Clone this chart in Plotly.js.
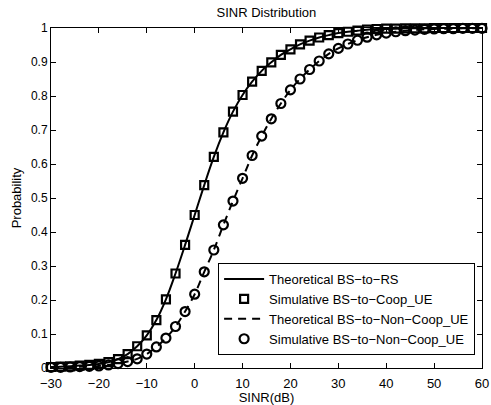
<!DOCTYPE html>
<html>
<head>
<meta charset="utf-8">
<script src="https://cdn.plot.ly/plotly-3.0.1.min.js"></script>
<style>html,body{margin:0;padding:0;background:#fff;}#chart{width:491px;height:405px;}</style>
</head>
<body>
<div id="chart"></div>
<script>
var sinrDb = [-30,-28,-26,-24,-22,-20,-18,-16,-14,-12,-10,-8,-6,-4,-2,0,2,4,6,8,10,12,14,16,18,20,22,24,26,28,30,32,34,36,38,40,42,44,46,48,50,52,54,56,58,60];

var simCoop = [0.003,0.004,0.005,0.007,0.009,0.012,0.017,0.026,0.041,0.064,0.096,0.141,0.202,0.278,0.362,0.450,0.538,0.621,0.693,0.754,0.803,0.842,0.874,0.899,0.921,0.937,0.952,0.963,0.972,0.979,0.985,0.989,0.992,0.995,0.997,0.998,0.998,0.999,0.999,0.999,1.0,1.0,1.0,1.0,1.0,1.0];
var theoCoop = [0.003,0.004,0.005,0.007,0.009,0.012,0.017,0.026,0.041,0.064,0.096,0.141,0.202,0.278,0.362,0.450,0.538,0.621,0.693,0.754,0.803,0.842,0.874,0.899,0.921,0.937,0.952,0.963,0.972,0.979,0.985,0.989,0.992,0.995,0.997,0.998,0.998,0.999,0.999,0.999,1.0,1.0,1.0,1.0,1.0,1.0];

var simNonCoop = [0.002,0.002,0.003,0.004,0.005,0.006,0.009,0.013,0.019,0.027,0.041,0.062,0.088,0.122,0.166,0.217,0.283,0.347,0.421,0.491,0.558,0.625,0.682,0.733,0.778,0.818,0.850,0.878,0.903,0.924,0.940,0.953,0.964,0.973,0.980,0.985,0.989,0.992,0.994,0.996,0.997,0.998,0.998,0.999,0.999,0.999];
var theoNonCoop = [0.002,0.002,0.003,0.004,0.005,0.006,0.009,0.013,0.019,0.027,0.041,0.062,0.088,0.122,0.166,0.217,0.283,0.347,0.421,0.491,0.558,0.625,0.682,0.733,0.778,0.818,0.850,0.878,0.903,0.924,0.940,0.953,0.964,0.973,0.980,0.985,0.989,0.992,0.994,0.996,0.997,0.998,0.998,0.999,0.999,0.999];

var seriesNames = ['Theoretical BS\u2212to\u2212RS','Simulative BS\u2212to\u2212Coop_UE','Theoretical BS\u2212to\u2212Non\u2212Coop_UE','Simulative BS\u2212to\u2212Non\u2212Coop_UE'];
var xTicks = [-30,-20,-10,0,10,20,30,40,50,60];
var yTicks = [0,0.1,0.2,0.3,0.4,0.5,0.6,0.7,0.8,0.9,1];
var yTickText = ['0','0.1','0.2','0.3','0.4','0.5','0.6','0.7','0.8','0.9','1'];

var font = 'Liberation Sans, Arial, Helvetica, sans-serif';

var traces = [
  {x: sinrDb, y: theoCoop, name: seriesNames[0], mode: 'lines', type: 'scatter',
   line: {color: '#000', width: 2, shape: 'spline'}, cliponaxis: false},
  {x: sinrDb, y: simCoop, name: seriesNames[1], mode: 'markers', type: 'scatter',
   marker: {symbol: 'square-open', size: 8, color: '#000', line: {width: 2.2, color: '#000'}}, cliponaxis: false},
  {x: sinrDb, y: theoNonCoop, name: seriesNames[2], mode: 'lines', type: 'scatter',
   line: {color: '#000', width: 2, dash: '8px,6px', shape: 'spline'}, cliponaxis: false},
  {x: sinrDb, y: simNonCoop, name: seriesNames[3], mode: 'markers', type: 'scatter',
   marker: {symbol: 'circle-open', size: 9, color: '#000', line: {width: 2.2, color: '#000'}}, cliponaxis: false}
];

var layout = {
  width: 491, height: 405,
  margin: {l: 51, r: 9, t: 28, b: 37, pad: 0},
  paper_bgcolor: '#fff', plot_bgcolor: '#fff',
  font: {family: font, size: 12, color: '#000'},
  showlegend: true,
  title: {text: 'SINR Distribution', x: 0.5426, xanchor: 'center', y: 0.97, yanchor: 'middle', font: {family: font, size: 13, color: '#000'}},
  xaxis: {
    range: [-30, 60], tickvals: xTicks, ticks: 'inside', ticklen: 5, tickwidth: 1, tickcolor: '#000',
    showline: true, linecolor: '#000', linewidth: 1, mirror: 'ticks', showgrid: false, zeroline: false,
    tickfont: {family: font, size: 13, color: '#000'}, ticklabelstandoff: 3,
    title: {text: 'SINR(dB)', font: {family: font, size: 13, color: '#000'}, standoff: 0}
  },
  yaxis: {
    range: [0, 1], tickvals: yTicks, ticktext: yTickText, ticks: 'inside', ticklen: 5, tickwidth: 1, tickcolor: '#000',
    showline: true, linecolor: '#000', linewidth: 1, mirror: 'ticks', showgrid: false, zeroline: false,
    tickfont: {family: font, size: 12, color: '#000'},
    title: {text: 'Probability', font: {family: font, size: 13, color: '#000'}, standoff: 6}
  },
  legend: {
    x: 0.984, xanchor: 'right', y: 0.038, yanchor: 'bottom',
    bgcolor: '#fff', bordercolor: '#000', borderwidth: 1,
    font: {family: font, size: 13, color: '#000'},
    tracegroupgap: 0, itemwidth: 40
  }
};

Plotly.newPlot('chart', traces, layout, {staticPlot: true, displayModeBar: false});
</script>
</body>
</html>
